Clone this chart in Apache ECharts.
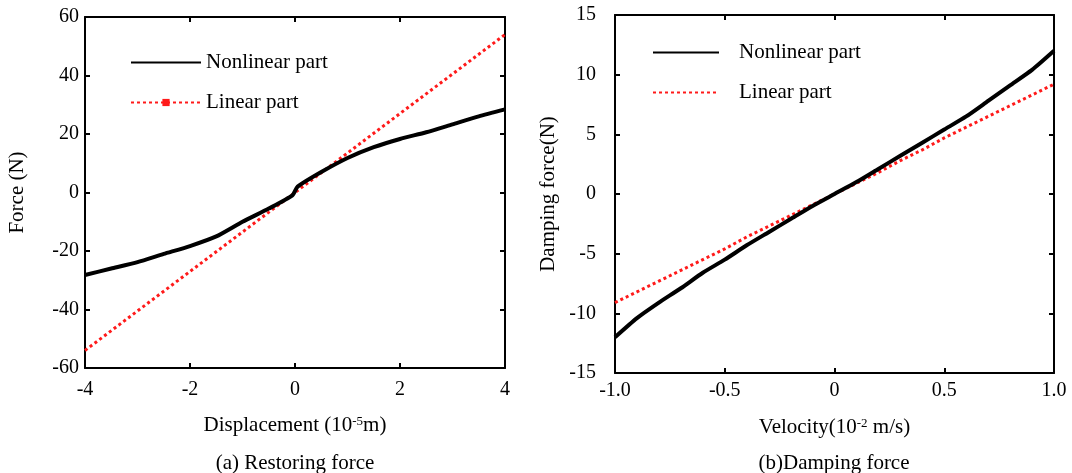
<!DOCTYPE html>
<html>
<head>
<meta charset="utf-8">
<script src="https://cdn.jsdelivr.net/npm/echarts@6/dist/echarts.min.js"></script>
<style>
html,body{margin:0;padding:0;background:#fff;}
#chart{width:1072px;height:473px;}
</style>
</head>
<body>
<div id="chart"></div>
<script>
// ---- Data ----
const dispX    = [-4, -3.5, -3, -2.5, -2, -1.5, -1, -0.5, -0.05, 0.05, 0.5, 1, 1.5, 2, 2.5, 3, 3.5, 4];
const nonlinA  = [-28.2, -26, -23.8, -21, -18.3, -15, -10, -5.5, -1, 2, 7, 11.8, 15.5, 18.3, 20.6, 23.3, 26, 28.4];
const linX     = [-4, -3, -2, -1, 0, 1, 2, 3, 4];
const linA     = [-54, -40.5, -27, -13.5, 0, 13.5, 27, 40.5, 54];

const velX     = [-1, -0.9, -0.8, -0.7, -0.6, -0.5, -0.4, -0.3, -0.2, -0.1, 0, 0.1, 0.2, 0.3, 0.4, 0.5, 0.6, 0.7, 0.8, 0.9, 1];
const nonlinB  = [-12, -10.4, -9.1, -7.9, -6.6, -5.5, -4.3, -3.2, -2.1, -1, 0, 1, 2.1, 3.2, 4.3, 5.4, 6.5, 7.8, 9.1, 10.4, 12];
const linB     = [-9.1, -8.2, -7.3, -6.4, -5.5, -4.6, -3.6, -2.7, -1.8, -0.9, 0, 0.9, 1.8, 2.8, 3.7, 4.7, 5.6, 6.5, 7.4, 8.3, 9.2];

const xTicksB  = ['-1.0', '-0.5', '0', '0.5', '1.0'];
const captionA = '(a) Restoring force';
const captionB = '(b)Damping force';

// ---- Helpers ----
const FONT = 'Liberation Serif';
const pairs = (xs, ys) => xs.map((x, i) => [x, ys[i]]);
const black = '#000';
const red = '#ff1a1a';

function frameAxis(extra) {
  return Object.assign({
    axisLine: {show: true, onZero: false, lineStyle: {color: black, width: 2}},
    axisTick: {show: true, inside: true, length: 5, lineStyle: {color: black, width: 2}},
    splitLine: {show: false},
    axisLabel: {show: false}
  }, extra);
}

const labelStyle = {color: black, fontFamily: FONT, fontSize: 20};
const textStyle21 = {color: black, fontFamily: FONT, fontSize: 21};
const supRich = {sup: {fontFamily: FONT, fontSize: 13, color: black, verticalAlign: 'top', padding: [0, 0, 8, 0]}};

const option = {
  backgroundColor: '#fff',
  animation: false,
  grid: [
    {left: 85, right: 567, top: 17, bottom: 105},
    {left: 615, right: 18, top: 15, bottom: 100}
  ],
  xAxis: [
    frameAxis({type: 'value', gridIndex: 0, position: 'bottom', min: -4, max: 4, interval: 2,
      axisLabel: Object.assign({show: true, margin: 12}, labelStyle),
      name: 'Displacement (10{sup|-5}m)', nameLocation: 'middle', nameGap: 47,
      nameTextStyle: Object.assign({}, textStyle21, {rich: supRich})
    }),
    frameAxis({type: 'value', gridIndex: 0, position: 'top', min: -4, max: 4, interval: 2}),
    frameAxis({type: 'value', gridIndex: 1, position: 'bottom', min: -1, max: 1, interval: 0.5,
      axisLabel: Object.assign({show: true, margin: 8, formatter: (v) => xTicksB[Math.round((v + 1) / 0.5)]}, labelStyle),
      name: 'Velocity(10{sup|-2} m/s)', nameLocation: 'middle', nameGap: 44,
      nameTextStyle: Object.assign({}, textStyle21, {rich: supRich})
    }),
    frameAxis({type: 'value', gridIndex: 1, position: 'top', min: -1, max: 1, interval: 0.5})
  ],
  yAxis: [
    frameAxis({type: 'value', gridIndex: 0, position: 'left', min: -60, max: 60, interval: 20,
      axisLabel: Object.assign({show: true, margin: 6}, labelStyle),
      name: 'Force (N)', nameLocation: 'middle', nameGap: 57, nameTextStyle: textStyle21
    }),
    frameAxis({type: 'value', gridIndex: 0, position: 'right', min: -60, max: 60, interval: 20}),
    frameAxis({type: 'value', gridIndex: 1, position: 'left', min: -15, max: 15, interval: 5,
      axisLabel: Object.assign({show: true, margin: 19}, labelStyle),
      name: 'Damping force(N)', nameLocation: 'middle', nameGap: 56, nameTextStyle: textStyle21
    }),
    frameAxis({type: 'value', gridIndex: 1, position: 'right', min: -15, max: 15, interval: 5})
  ],
  legend: [
    {
      orient: 'vertical', left: 130, top: 52, padding: 0, itemWidth: 70, itemHeight: 9, itemGap: 19,
      textStyle: Object.assign({}, textStyle21),
      data: [
        {name: 'Nonlinear part', itemStyle: {opacity: 0}},
        {name: 'Linear part'}
      ]
    },
    {
      orient: 'vertical', left: 652, top: 42, padding: 0, itemWidth: 66, itemHeight: 9, itemGap: 19,
      textStyle: Object.assign({}, textStyle21, {padding: [0, 0, 0, 15]}),
      data: [
        {name: 'Nonlinear part ', itemStyle: {opacity: 0}},
        {name: 'Linear part ', itemStyle: {opacity: 0}}
      ]
    }
  ],
  series: [
    {
      name: 'Linear part', type: 'line', xAxisIndex: 0, yAxisIndex: 0,
      data: pairs(linX, linA), symbol: 'rect', symbolSize: 8, showSymbol: false,
      itemStyle: {color: red},
      lineStyle: {color: red, width: 3, type: [3, 3]}, z: 2
    },
    {
      name: 'Nonlinear part', type: 'line', xAxisIndex: 0, yAxisIndex: 0,
      data: pairs(dispX, nonlinA), symbol: 'none', smooth: 0.2,
      itemStyle: {color: black},
      lineStyle: {color: black, width: 4}, z: 3
    },
    {
      name: 'Linear part ', type: 'line', xAxisIndex: 2, yAxisIndex: 2,
      data: pairs(velX, linB), symbol: 'none',
      itemStyle: {color: red},
      lineStyle: {color: red, width: 3, type: [3, 3]}, z: 2
    },
    {
      name: 'Nonlinear part ', type: 'line', xAxisIndex: 2, yAxisIndex: 2,
      data: pairs(velX, nonlinB), symbol: 'none', smooth: 0.2,
      itemStyle: {color: black},
      lineStyle: {color: black, width: 4}, z: 3
    }
  ],
  graphic: [
    {type: 'text', x: 295, y: 463, style: {text: captionA, align: 'center', verticalAlign: 'middle', fill: black, font: '21px "Liberation Serif"'}},
    {type: 'text', x: 834, y: 463, style: {text: captionB, align: 'center', verticalAlign: 'middle', fill: black, font: '21px "Liberation Serif"'}}
  ]
};

const chart = echarts.init(document.getElementById('chart'), null, {renderer: 'canvas'});
chart.setOption(option);
</script>
</body>
</html>
